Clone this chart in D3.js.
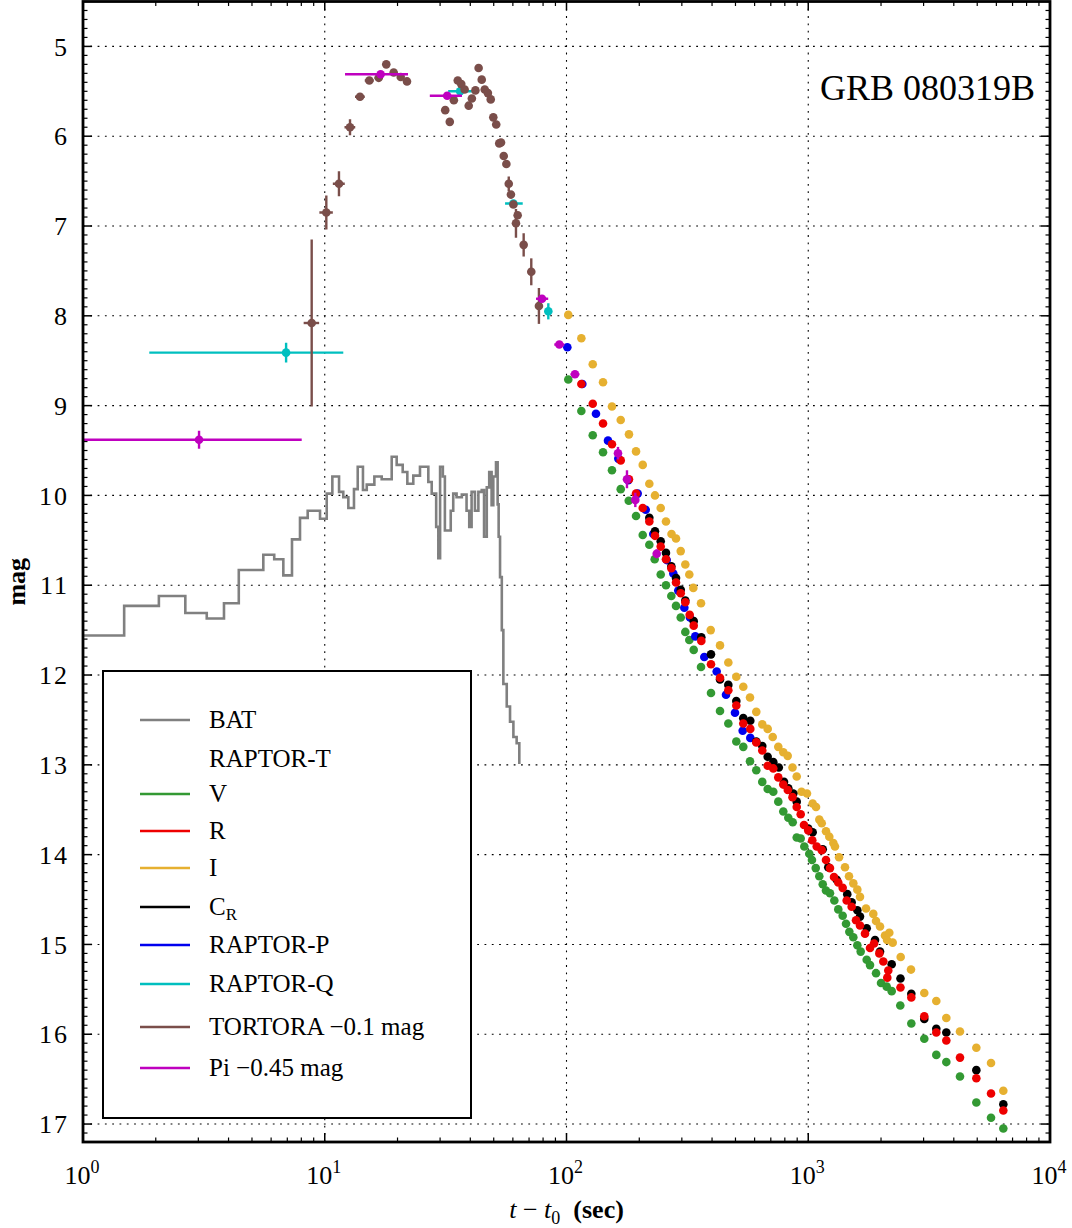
<!DOCTYPE html>
<html lang="en">
<head>
<meta charset="UTF-8">
<title>GRB 080319B light curve</title>
<script src="https://d3js.org/d3.v7.min.js"></script>
<style>
  body { margin: 0; background: #fff; }
  text { font-family: "Liberation Serif", "DejaVu Serif", serif; fill: #000; }
</style>
</head>
<body>
<div id="chart"></div>
<script>
// ---------- data (t - t0 in seconds, magnitudes) ----------
const batTime = [0.9, 1.48, 2.06, 2.65, 3.25, 3.83, 4.41, 5.57, 6.18, 6.74, 7.32, 7.90, 8.50, 9.56, 10.19, 10.75, 11.46, 11.93, 12.52, 13.21, 13.69, 14.39, 14.92, 16.04, 17.20, 18.92, 19.84, 21.01, 21.96, 23.24, 24.77, 26.82, 27.7, 28.9, 29.5, 30.0, 30.8, 31.4, 32.3, 33.2, 34.0, 35.1, 36.9, 38.6, 39.6, 40.5, 41.8, 43.2, 44.6, 45.6, 46.8, 47.9, 49.0, 49.8, 51.1, 51.9, 52.4, 53.1, 54.0, 54.8, 56.6, 58.4, 60.3, 62.2, 63.8];
const batMag = [11.56, 11.23, 11.12, 11.31, 11.37, 11.20, 10.83, 10.66, 10.71, 10.89, 10.49, 10.25, 10.17, 10.26, 9.98, 9.79, 9.96, 10.02, 10.14, 9.93, 9.68, 9.94, 9.88, 9.79, 9.82, 9.57, 9.66, 9.74, 9.87, 9.78, 9.68, 9.85, 9.98, 10.35, 10.70, 9.68, 9.79, 10.39, 10.39, 10.17, 9.98, 10.02, 9.99, 10.17, 10.35, 9.96, 10.17, 9.96, 9.94, 10.46, 9.91, 9.74, 10.11, 9.79, 9.63, 10.10, 10.46, 10.91, 11.50, 12.10, 12.35, 12.52, 12.69, 12.76, 12.99];

const vTime = [101.7, 115.2, 128.4, 141.6, 154.2, 167.6, 180.9, 193.9, 206.7, 220.1, 231.6, 245.3, 257.9, 271.4, 283.8, 296.8, 310.1, 322.1, 335.9, 360.1, 396.0, 431.5, 467.1, 504.0, 538.6, 574.2, 609.6, 645.4, 679.6, 716.8, 751.7, 788.4, 827.0, 862.4, 896.0, 930.6, 963.2, 1010, 1036, 1074, 1111, 1148, 1184, 1230, 1282, 1331, 1388, 1433, 1479, 1536, 1596, 1648, 1745, 1801, 1907, 2000, 2111, 2214, 2403, 2669, 3020, 3386, 3725, 4243, 4958, 5702, 6411];
const vMag = [8.71, 9.06, 9.33, 9.52, 9.72, 9.93, 10.06, 10.23, 10.44, 10.55, 10.71, 10.88, 11.00, 11.12, 11.23, 11.36, 11.52, 11.61, 11.72, 11.91, 12.20, 12.40, 12.54, 12.74, 12.80, 12.96, 13.06, 13.19, 13.27, 13.30, 13.41, 13.52, 13.59, 13.64, 13.81, 13.82, 13.91, 13.99, 14.06, 14.15, 14.24, 14.33, 14.40, 14.43, 14.51, 14.61, 14.68, 14.77, 14.86, 14.92, 15.01, 15.08, 15.17, 15.23, 15.32, 15.43, 15.47, 15.52, 15.68, 15.88, 16.05, 16.23, 16.31, 16.47, 16.76, 16.93, 17.05];

const rTime = [115.2, 128.4, 141.6, 154.2, 167.6, 181.3, 193.9, 206.7, 220.1, 232.3, 245.3, 257.9, 271.4, 283.8, 296.8, 310.1, 323.3, 335.9, 361.1, 396.0, 431.5, 467.1, 504.0, 538.6, 575.8, 609.6, 645.4, 679.6, 716.8, 751.7, 788.4, 823.0, 860.7, 896.0, 930.6, 960.3, 1000, 1039, 1084, 1137, 1184, 1230, 1278, 1331, 1388, 1442, 1512, 1576, 1637, 1717, 1801, 1871, 1968, 2044, 2123, 2143, 2407, 2669, 3020, 3386, 3725, 4243, 4958, 5702, 6411];
const rMag = [8.76, 8.98, 9.20, 9.43, 9.61, 9.82, 9.98, 10.14, 10.29, 10.45, 10.57, 10.71, 10.81, 10.97, 11.09, 11.19, 11.33, 11.45, 11.62, 11.88, 12.03, 12.17, 12.34, 12.54, 12.60, 12.75, 12.84, 13.01, 13.04, 13.14, 13.22, 13.28, 13.36, 13.47, 13.55, 13.67, 13.73, 13.84, 13.91, 13.95, 14.06, 14.15, 14.25, 14.31, 14.37, 14.51, 14.58, 14.73, 14.79, 14.88, 15.04, 14.99, 15.10, 15.19, 15.37, 15.29, 15.48, 15.59, 15.80, 15.98, 16.07, 16.26, 16.49, 16.66, 16.85];

const iTime = [101.7, 115.2, 128.4, 141.6, 154.2, 167.6, 181.3, 193.9, 206.7, 220.1, 232.3, 245.3, 257.9, 271.9, 283.8, 296.8, 310.1, 322.1, 334.6, 360.1, 395.0, 431.5, 467.1, 504.0, 538.6, 574.2, 609.6, 645.4, 679.6, 712.8, 751.7, 788.4, 822.2, 860.7, 896.0, 937.9, 988.1, 1043, 1077, 1111, 1137, 1184, 1222, 1270, 1290, 1341, 1419, 1474, 1536, 1596, 1637, 1734, 1858, 1907, 1981, 2077, 2118, 2164, 2235, 2412, 2661, 3020, 3386, 3725, 4243, 4958, 5702, 6411];
const iMag = [7.99, 8.25, 8.54, 8.74, 9.01, 9.16, 9.32, 9.51, 9.66, 9.87, 10.00, 10.14, 10.29, 10.43, 10.48, 10.62, 10.77, 10.88, 11.03, 11.20, 11.50, 11.67, 11.86, 12.02, 12.13, 12.25, 12.41, 12.55, 12.60, 12.69, 12.80, 12.86, 12.90, 13.03, 13.13, 13.30, 13.32, 13.43, 13.47, 13.61, 13.65, 13.74, 13.80, 13.87, 13.91, 14.03, 14.14, 14.24, 14.32, 14.39, 14.47, 14.60, 14.66, 14.74, 14.80, 14.90, 14.95, 14.87, 14.98, 15.14, 15.28, 15.54, 15.63, 15.82, 15.97, 16.15, 16.32, 16.63];

const crTime = [220.1, 232.3, 245.3, 257.9, 271.4, 283.8, 296.8, 310.1, 335.9, 361.1, 396.0, 431.5, 467.1, 504.0, 538.6, 575.8, 609.6, 645.4, 679.6, 716.8, 755.3, 793.7, 827.0, 867.4, 896.0, 1000, 1043, 1148, 1210, 1312, 1450, 1512, 1596, 1637, 1745, 1889, 1981, 2214, 2407, 2669, 3020, 3386, 3725, 4958, 6411];
const crMag = [10.25, 10.40, 10.51, 10.64, 10.79, 10.92, 11.05, 11.17, 11.40, 11.58, 11.77, 12.05, 12.11, 12.29, 12.48, 12.51, 12.74, 12.79, 12.91, 12.97, 13.03, 13.19, 13.26, 13.32, 13.41, 13.71, 13.75, 13.94, 14.14, 14.28, 14.44, 14.53, 14.62, 14.69, 14.82, 14.95, 15.08, 15.22, 15.38, 15.55, 15.83, 15.94, 15.98, 16.40, 16.78];

const pTime = [100.8, 116.3, 132.4, 148.5, 163.8, 180.2, 197.0, 212.6, 228.6, 259.7, 276.6, 290.0, 307.2, 324.2, 341.0, 371.5, 418.1, 456.9, 497.7, 535.5, 575.8];
const pMag = [8.35, 8.76, 9.09, 9.39, 9.59, 9.83, 9.98, 10.16, 10.43, 10.72, 10.87, 11.06, 11.25, 11.36, 11.57, 11.80, 11.96, 12.22, 12.42, 12.62, 12.70];

const qTime = [6.92, 36.3, 60.3, 84.1];
const qLo = [1.88, 32.4, 55.7, 81.8];
const qHi = [11.93, 40.6, 65.9, 86.4];
const qMag = [8.41, 5.50, 6.75, 7.95];
const qErr = [0.11, 0.02, 0.02, 0.09];

const tortTime = [8.83, 10.15, 11.45, 12.72, 13.99, 15.29, 16.72, 17.97, 19.28, 20.62, 21.89, 31.5, 32.9, 34.2, 35.5, 36.7, 37.9, 39.4, 40.6, 42.0, 43.3, 44.6, 45.9, 47.3, 48.6, 49.8, 51.2, 52.7, 53.6, 55.0, 56.4, 57.7, 58.9, 60.3, 61.8, 62.8, 66.5, 71.5, 76.9];
const tortMag = [8.08, 6.85, 6.53, 5.90, 5.56, 5.38, 5.35, 5.20, 5.29, 5.34, 5.39, 5.71, 5.84, 5.60, 5.38, 5.42, 5.48, 5.66, 5.58, 5.49, 5.24, 5.37, 5.48, 5.52, 5.59, 5.79, 5.87, 6.08, 6.07, 6.22, 6.31, 6.53, 6.65, 6.76, 6.97, 6.88, 7.21, 7.51, 7.89];
const tortErr = [0.93, 0.19, 0.14, 0.09, 0.04, 0.02, 0.02, 0.02, 0.02, 0.02, 0.02, 0.02, 0.02, 0.02, 0.02, 0.02, 0.02, 0.02, 0.02, 0.02, 0.02, 0.02, 0.02, 0.02, 0.02, 0.02, 0.02, 0.02, 0.02, 0.02, 0.02, 0.08, 0.04, 0.04, 0.16, 0.04, 0.13, 0.15, 0.20];
const tortHalfExp = 0.65;

const piTime = [3.02, 17.03, 32.1, 79.2, 93.4, 108.4, 163.3, 177.9, 192.6, 236.1];
const piLo = [0.9, 12.13, 27.2, 74.8, 89.0, 104, 158, 172, 187, 230];
const piHi = [8.03, 22.1, 36.96, 84.0, 98.0, 113, 169, 184, 198, 242];
const piMag = [9.38, 5.31, 5.55, 7.81, 8.32, 8.65, 9.53, 9.82, 10.05, 10.65];
const piErr = [0.10, 0.02, 0.02, 0.03, 0.02, 0.03, 0.07, 0.10, 0.08, 0.05];

const magTicks = [5, 6, 7, 8, 9, 10, 11, 12, 13, 14, 15, 16, 17];
const decadeTicks = [1, 10, 100, 1000, 10000];

const colors = {
    bat: '#808080', v: '#339933', r: '#ee0000', i: '#e6b030', cr: '#000000',
    p: '#0000ee', q: '#00bfbf', tort: '#7a4e4a', pi: '#bf00bf'
};

// ---------- layout ----------
const W = 1072, H = 1228;
const margin = {top: 1.5, right: 22, bottom: 86, left: 83};
const width = W - margin.left - margin.right,
      height = H - margin.top - margin.bottom;

const svg = d3.select('#chart').append('svg')
    .attr('width', W).attr('height', H);
const g = svg.append('g')
    .attr('transform', `translate(${margin.left}, ${margin.top})`);

const x = d3.scaleLog().domain([1, 1e4]).range([0, width]);
const y = d3.scaleLinear().domain([4.5, 17.2]).range([0, height]);

g.append('clipPath').attr('id', 'clip')
  .append('rect').attr('width', width).attr('height', height);

// grid
const grid = g.append('g').attr('stroke', '#000').attr('stroke-width', 1.1)
    .attr('stroke-dasharray', '1.8,5.5');
grid.selectAll('.hg').data(magTicks).join('line')
    .attr('x1', 0).attr('x2', width)
    .attr('y1', d => y(d)).attr('y2', d => y(d));
grid.selectAll('.vg').data(decadeTicks.slice(1, -1)).join('line')
    .attr('y1', 0).attr('y2', height)
    .attr('x1', d => x(d)).attr('x2', d => x(d));

const plot = g.append('g').attr('clip-path', 'url(#clip)');

// BAT step curve
plot.append('path')
    .datum(d3.zip(batTime, batMag))
    .attr('fill', 'none').attr('stroke', colors.bat).attr('stroke-width', 2.6)
    .attr('d', d3.line().x(d => x(d[0])).y(d => y(d[1])).curve(d3.curveStepAfter));

function dots(times, mags, color, r = 4.3) {
    plot.append('g').selectAll('circle')
        .data(d3.zip(times, mags))
        .join('circle')
        .attr('cx', d => x(d[0])).attr('cy', d => y(d[1]))
        .attr('r', r).attr('fill', color);
}

function errorDots(times, mags, lo, hi, err, color) {
    const gg = plot.append('g').attr('stroke', color).attr('stroke-width', 2.4);
    const rows = times.map((t, k) => ({t, m: mags[k], lo: lo[k], hi: hi[k], e: err[k]}));
    gg.selectAll('.xe').data(rows).join('line')
        .attr('x1', d => x(d.lo)).attr('x2', d => x(d.hi))
        .attr('y1', d => y(d.m)).attr('y2', d => y(d.m));
    gg.selectAll('.ye').data(rows).join('line')
        .attr('x1', d => x(d.t)).attr('x2', d => x(d.t))
        .attr('y1', d => y(d.m - d.e)).attr('y2', d => y(d.m + d.e));
    gg.selectAll('circle').data(rows).join('circle')
        .attr('cx', d => x(d.t)).attr('cy', d => y(d.m))
        .attr('r', 4.3).attr('fill', color).attr('stroke', 'none');
}

dots(vTime, vMag, colors.v);
dots(iTime, iMag, colors.i);
dots(pTime, pMag, colors.p);
dots(crTime, crMag, colors.cr);
dots(rTime, rMag, colors.r);
errorDots(qTime, qMag, qLo, qHi, qErr, colors.q);
errorDots(tortTime, tortMag,
    tortTime.map(t => t - tortHalfExp), tortTime.map(t => t + tortHalfExp),
    tortErr, colors.tort);
errorDots(piTime, piMag, piLo, piHi, piErr, colors.pi);

// frame ticks (inward, all four sides)
const ticks = g.append('g').attr('stroke', '#000');
const minorMag = d3.range(45, 173).map(v => v / 10).filter(v => !magTicks.includes(v));
[[0, 1], [width, -1]].forEach(([x0, dir]) => {
    ticks.append('g').selectAll('line').data(minorMag).join('line')
        .attr('stroke-width', 1.2)
        .attr('x1', x0).attr('x2', x0 + dir * 4.5)
        .attr('y1', d => y(d)).attr('y2', d => y(d));
    ticks.append('g').selectAll('line').data(magTicks).join('line')
        .attr('stroke-width', 1.5)
        .attr('x1', x0).attr('x2', x0 + dir * 9)
        .attr('y1', d => y(d)).attr('y2', d => y(d));
});
const minorT = [];
decadeTicks.slice(0, -1).forEach(dd => d3.range(2, 10).forEach(k => minorT.push(dd * k)));
[[0, 1], [height, -1]].forEach(([y0, dir]) => {
    ticks.append('g').selectAll('line').data(minorT).join('line')
        .attr('stroke-width', 1.2)
        .attr('y1', y0).attr('y2', y0 + dir * 4.5)
        .attr('x1', d => x(d)).attr('x2', d => x(d));
    ticks.append('g').selectAll('line').data(decadeTicks).join('line')
        .attr('stroke-width', 1.5)
        .attr('y1', y0).attr('y2', y0 + dir * 9)
        .attr('x1', d => x(d)).attr('x2', d => x(d));
});

// frame
g.append('rect').attr('width', width).attr('height', height)
    .attr('fill', 'none').attr('stroke', '#000').attr('stroke-width', 2.8);

// y tick labels
g.append('g').selectAll('text').data(magTicks).join('text')
    .attr('x', -14).attr('y', d => y(d)).attr('dy', '0.35em')
    .attr('text-anchor', 'end').attr('font-size', 26)
    .attr('letter-spacing', 2)
    .text(d => d);

// x tick labels 10^n
const xl = g.append('g').selectAll('text').data(decadeTicks).join('text')
    .attr('x', d => x(d) - 1).attr('y', height + 42)
    .attr('text-anchor', 'middle').attr('font-size', 26);
xl.append('tspan').text('10');
xl.append('tspan').attr('font-size', 18).attr('dy', -11)
    .text(d => Math.round(Math.log10(d)));

// axis labels
const xlab = g.append('text')
    .attr('x', width / 2).attr('y', height + 76)
    .attr('text-anchor', 'middle').attr('font-size', 26);
xlab.append('tspan').attr('font-style', 'italic').text('t');
xlab.append('tspan').text(' \u2212 ');
xlab.append('tspan').attr('font-style', 'italic').text('t');
xlab.append('tspan').attr('font-size', 18).attr('dy', 6).text('0');
xlab.append('tspan').attr('dy', -6).attr('font-weight', 'bold').text('\u2002(sec)');

svg.append('text')
    .attr('transform', `translate(25, ${margin.top + height / 2 + 10}) rotate(-90)`)
    .attr('text-anchor', 'middle').attr('font-size', 26).attr('font-weight', 'bold')
    .text('mag');

// title
g.append('text')
    .attr('x', width - 15).attr('y', 98)
    .attr('text-anchor', 'end').attr('font-size', 36)
    .text('GRB 080319B');

// legend
const legendRows = [
    {label: 'BAT', color: colors.bat},
    {label: 'RAPTOR-T', color: null},
    {label: 'V', color: colors.v},
    {label: 'R', color: colors.r},
    {label: 'I', color: colors.i},
    {label: 'C', sub: 'R', color: colors.cr},
    {label: 'RAPTOR-P', color: colors.p},
    {label: 'RAPTOR-Q', color: colors.q},
    {label: 'TORTORA \u22120.1 mag', color: colors.tort},
    {label: 'Pi \u22120.45 mag', color: colors.pi}
];
const legendY = [720, 759, 794, 831, 868, 907, 945, 984, 1027, 1068];

const lg = svg.append('g');
lg.append('rect').attr('x', 103).attr('y', 671).attr('width', 368).attr('height', 447)
    .attr('fill', '#fff').attr('stroke', '#000').attr('stroke-width', 2);
legendRows.forEach((row, k) => {
    const yy = legendY[k];
    if (row.color) {
        lg.append('line').attr('x1', 140).attr('x2', 190).attr('y1', yy).attr('y2', yy)
            .attr('stroke', row.color).attr('stroke-width', 2.4);
    }
    const t = lg.append('text').attr('x', 209).attr('y', yy + 8).attr('font-size', 25);
    t.append('tspan').text(row.label);
    if (row.sub) t.append('tspan').attr('font-size', 17).attr('dy', 5).text(row.sub);
});
</script>
</body>
</html>
